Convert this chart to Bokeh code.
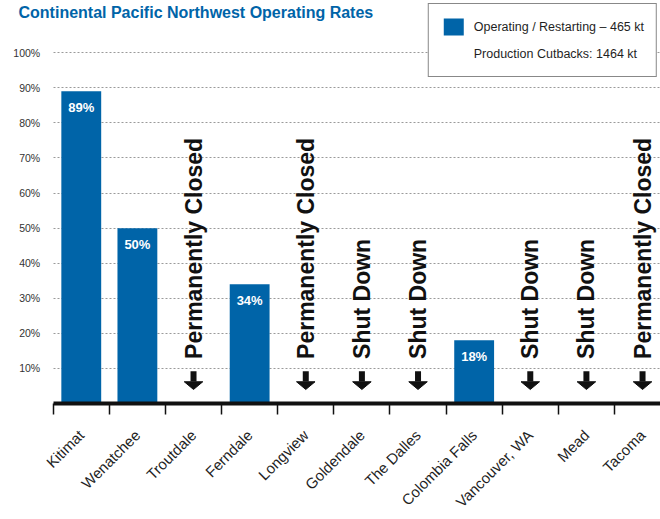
import math
from bokeh.plotting import figure
from bokeh.models import (Range1d, FixedTicker, PrintfTickFormatter, Legend, LegendItem, Label)
from bokeh.core.properties import value
from bokeh.embed import file_html
from bokeh.resources import INLINE

# ---------------- data ----------------
plants = ["Kitimat", "Wenatchee", "Troutdale", "Ferndale", "Longview", "Goldendale",
          "The Dalles", "Colombia Falls", "Vancouver, WA", "Mead", "Tacoma"]
rates = [89, 50, None, 34, None, None, None, 18, None, None, None]
status = ["", "", "Permanently Closed", "", "Permanently Closed", "Shut Down",
          "Shut Down", "", "Shut Down", "Shut Down", "Permanently Closed"]
y_ticks = [10, 20, 30, 40, 50, 60, 70, 80, 90, 100]
legend_labels = ["Operating / Restarting \u2013 465 kt", "Production Cutbacks: 1464 kt"]
title_text = "Continental Pacific Northwest Operating Rates"

# ---------------- style ----------------
BLUE = "#0064A8"
DARK = "#1f1f1f"
FONT = "Liberation Sans"

X_START, X_END = -0.939, 10.82
Y_TOP = 114.9

centers = [i + 0.5 for i in range(len(plants))]
bar_x = [c for c, r in zip(centers, rates) if r is not None]
bar_top = [r for r in rates if r is not None]
bar_lbl = [f"{r}%" for r in bar_top]

st_x = [c for c, s in zip(centers, status) if s]
st_txt = [s for s in status if s]

ANNOT_Y = 12.7
SHAFT_TOP = 9.2
HEAD_TOP = 6.2
HEAD_TIP = 4.0
HEAD_HALF = 0.165

p = figure(width=660, height=519, title=None,
           x_range=Range1d(X_START, X_END), y_range=Range1d(0, Y_TOP),
           output_backend="svg", toolbar_location=None,
           min_border_left=0, min_border_right=0, min_border_top=0,
           min_border_bottom=0)
p.outline_line_color = None
p.background_fill_color = "white"
p.border_fill_color = "white"

# title
p.add_layout(Label(x=18, y=Y_TOP - 1.0, x_units="screen", y_units="data", text=title_text,
                   text_baseline="top", text_align="left", text_font=FONT,
                   text_font_style="bold", text_font_size="16px", text_color=BLUE))

# bars
bars = p.vbar(x=bar_x, top=bar_top, width=0.71, fill_color=BLUE, line_color=None)
dummy = p.vbar(x=[], top=[], width=0.71, fill_alpha=0, line_alpha=0)

# value labels
p.text(x=bar_x, y=bar_top, text=bar_lbl, text_align="center", text_baseline="top",
       y_offset=9, text_color="white", text_font=value(FONT),
       text_font_style="bold", text_font_size="13px")

# status annotations
p.text(x=st_x, y=[ANNOT_Y] * len(st_x), text=st_txt, angle=math.pi / 2,
       text_align="left", text_baseline="middle", text_color="#111111",
       text_font=value(FONT), text_font_style="bold", text_font_size="23px")
p.segment(x0=st_x, y0=[SHAFT_TOP] * len(st_x), x1=st_x, y1=[HEAD_TOP + 0.1] * len(st_x),
          line_width=6, line_color="#111111")
p.patches(xs=[[c - HEAD_HALF, c + HEAD_HALF, c] for c in st_x],
          ys=[[HEAD_TOP, HEAD_TOP, HEAD_TIP] for _ in st_x],
          fill_color="#111111", line_color="#111111", line_width=1)

# grid: drawn by the y axis ticks (so they start at the axis)
p.xgrid.visible = False
p.ygrid.visible = False

# y axis at x = 0, its ticks form the dotted gridlines
p.yaxis.fixed_location = 0
p.yaxis.level = "underlay"
p.yaxis.ticker = FixedTicker(ticks=y_ticks)
p.yaxis.formatter = PrintfTickFormatter(format="%d%%")
p.yaxis.axis_line_color = None
p.yaxis.minor_tick_line_color = None
p.yaxis.major_tick_out = 0
p.yaxis.major_tick_in = 620
p.yaxis.major_tick_line_color = "#9a9a9a"
p.yaxis.major_tick_line_dash = "2 2"
p.yaxis.major_tick_line_width = 1
p.yaxis.major_label_standoff = 13
p.yaxis.major_label_text_font = FONT
p.yaxis.major_label_text_font_size = "10.5px"
p.yaxis.major_label_text_color = "#333333"

# x axis
p.xaxis.bounds = (0, X_END)
p.xaxis.ticker = FixedTicker(ticks=centers, minor_ticks=list(range(len(plants) + 1)))
p.xaxis.major_label_overrides = {c: n for c, n in zip(centers, plants)}
p.xaxis.axis_line_width = 4
p.xaxis.axis_line_color = "#111111"
p.xaxis.major_tick_out = 0
p.xaxis.major_tick_in = 0
p.xaxis.major_tick_line_color = None
p.xaxis.minor_tick_out = 11
p.xaxis.minor_tick_in = 0
p.xaxis.minor_tick_line_width = 1.5
p.xaxis.minor_tick_line_color = "#111111"
p.xaxis.major_label_orientation = math.pi / 4
p.xaxis.major_label_standoff = 18
p.xaxis.major_label_text_font = FONT
p.xaxis.major_label_text_font_size = "15px"
p.xaxis.major_label_text_color = DARK

# legend
legend = Legend(items=[LegendItem(label=legend_labels[0], renderers=[bars]),
                       LegendItem(label=legend_labels[1], renderers=[dummy])],
                location="top_right")
legend.border_line_color = "#111111"
legend.border_line_width = 1.5
legend.background_fill_color = "white"
legend.background_fill_alpha = 1
legend.padding = 12
legend.spacing = 6
legend.margin = 3
legend.glyph_width = 25
legend.glyph_height = 21
legend.label_standoff = 8
legend.label_text_font = FONT
legend.label_text_font_size = "12.5px"
legend.label_text_color = DARK
p.add_layout(legend)

open("out.html", "w").write(file_html(p, INLINE))
